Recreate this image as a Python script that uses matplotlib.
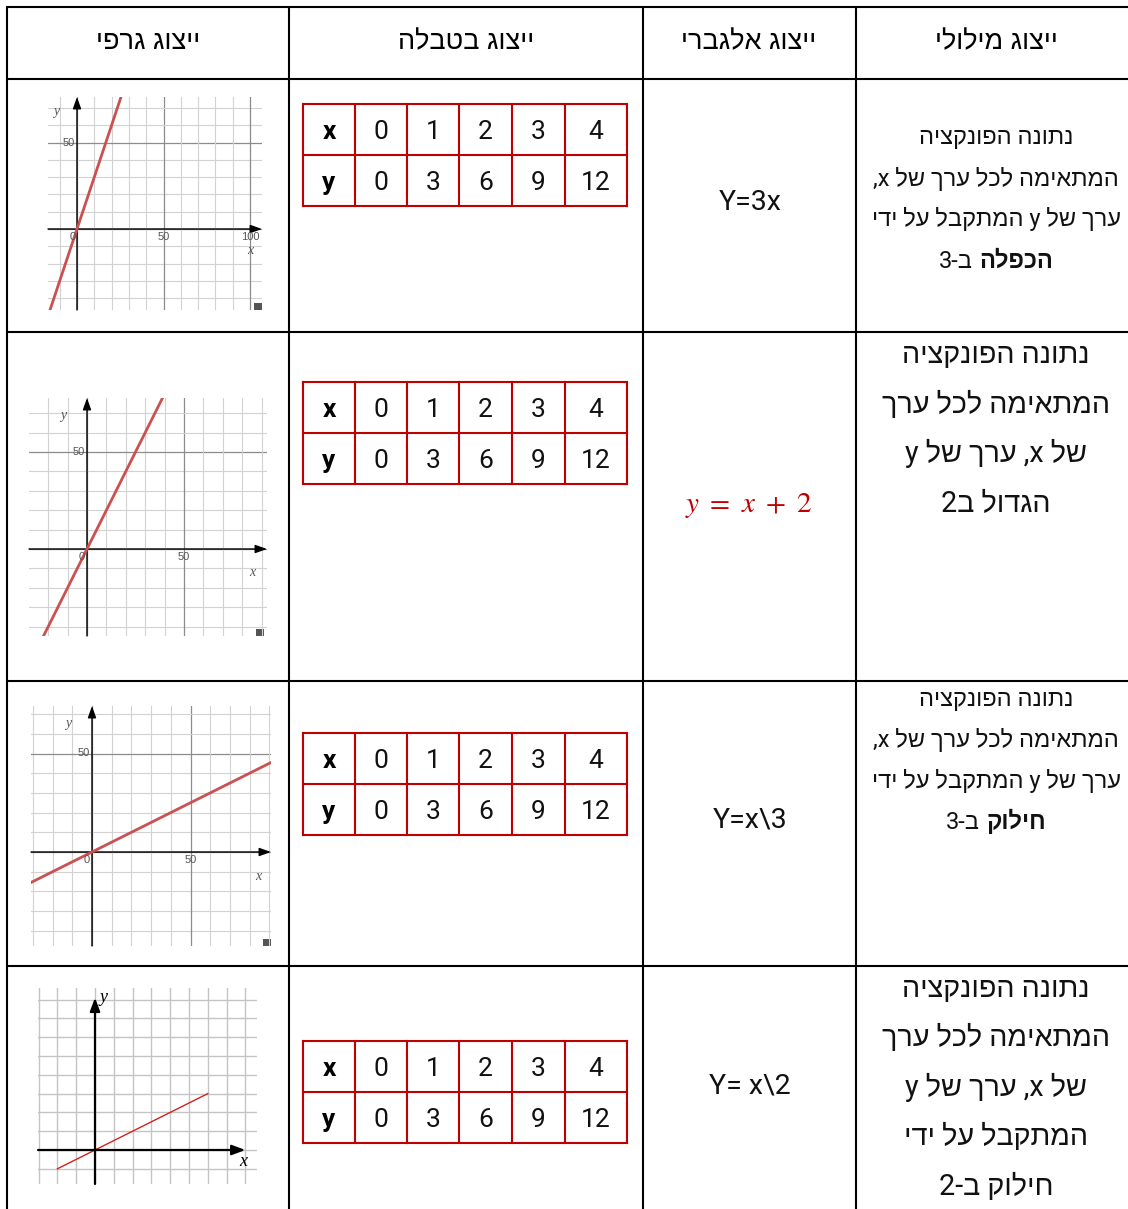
import re
import numpy as np
import matplotlib
matplotlib.use('Agg')
import matplotlib.pyplot as plt
from matplotlib.patches import Rectangle

# ---- data ----
headers = ['ייצוג גרפי', 'ייצוג בטבלה', 'ייצוג אלגברי', 'ייצוג מילולי']
x_vals = [0, 1, 2, 3, 4]
y_vals = [0, 3, 6, 9, 12]
slopes = [3, 2, 0.5, 0.5]
formulas = ['Y=3x', '$y\\ =\\ x\\ +\\ 2$', 'Y=x\\3', 'Y= x\\2']
verbal = [
    [[('נתונה הפונקציה', 0)], [('המתאימה לכל ערך של x,', 0)],
     [('ערך של y המתקבל על ידי', 0)], [('הכפלה', 1), ('ב-3', 0)]],
    [[('נתונה הפונקציה', 0)], [('המתאימה לכל ערך', 0)],
     [('של x, ערך של y', 0)], [('הגדול ב2', 0)]],
    [[('נתונה הפונקציה', 0)], [('המתאימה לכל ערך של x,', 0)],
     [('ערך של y המתקבל על ידי', 0)], [('חילוק', 1), ('ב-3', 0)]],
    [[('נתונה הפונקציה', 0)], [('המתאימה לכל ערך', 0)],
     [('של x, ערך של y', 0)], [('המתקבל על ידי', 0)], [('חילוק ב-2', 0)]],
]

HEB = ['Roboto', 'Liberation Sans', 'DejaVu Sans']
HEAD = ['Liberation Sans Narrow', 'Liberation Sans', 'DejaVu Sans']
RED = '#c00000'


def vis(s):
    # matplotlib has no bidi: put the Hebrew text in visual order
    r = s[::-1]
    return re.sub(r'[A-Za-z0-9]+', lambda m: m.group(0)[::-1], r)


W, H = 1128, 1209
fig = plt.figure(figsize=(W / 100, H / 100), dpi=100)
base = fig.add_axes([0, 0, 1, 1])
base.set_xlim(0, W)
base.set_ylim(H, 0)
base.axis('off')

# outer table
col_x = [7, 289, 643, 856]
row_y = [7, 79, 332, 681, 966]
for x in col_x:
    base.plot([x, x], [row_y[0] - 1, H], color='black', lw=1.5, solid_capstyle='butt')
for y in row_y:
    base.plot([col_x[0] - 1, W], [y, y], color='black', lw=1.5, solid_capstyle='butt')

head_cx = [148, 466, 749, 996]
for cx, h in zip(head_cx, headers):
    base.text(cx, 49, vis(h), fontsize=19.5, family=HEAD, ha='center', va='baseline')

# value tables
tx = [303, 355, 407, 459, 512, 565, 627]
tops = [104, 382, 733, 1041]
rh = 51
for top in tops:
    for x in tx:
        base.plot([x, x], [top, top + 2 * rh], color=RED, lw=1.5, solid_capstyle='projecting')
    for k in range(3):
        base.plot([tx[0], tx[-1]], [top + k * rh, top + k * rh], color=RED, lw=1.5,
                  solid_capstyle='projecting')
    for k, (lab, vals) in enumerate([('x', x_vals), ('y', y_vals)]):
        yb = top + k * rh + rh / 2 + 9.5
        base.text((tx[0] + tx[1]) / 2, yb, lab, fontsize=19, fontweight='bold',
                  family='Roboto', ha='center', va='baseline')
        for j, v in enumerate(vals):
            base.text((tx[j + 1] + tx[j + 2]) / 2, yb, str(v), fontsize=19,
                      family='Roboto', ha='center', va='baseline', color='#111111')

# algebraic column
alg_y = [202, 506, 820, 1086]
for k, (f, y) in enumerate(zip(formulas, alg_y)):
    if k == 1:
        base.text(749, y, f, fontsize=21, color=RED, ha='center', va='center',
                  math_fontfamily='stix')
    else:
        base.text(750, y, f, fontsize=20.5, family='Roboto', ha='center', va='center',
                  color='#111111')

# verbal column
line_y = [[136, 178, 218, 260], [354, 404, 453, 503],
          [698, 739, 780, 821], [988, 1037, 1087, 1136, 1186]]
sizes = [17, 20.7, 17, 20.7]
renderer = fig.canvas.get_renderer()


def rtl_line(cx, y, parts, size):
    texts = []
    for s, b in parts:
        t = base.text(0, y, vis(s), fontsize=size, family=HEB,
                      fontweight='bold' if b else 'normal', ha='left', va='baseline',
                      color='#111111')
        texts.append(t)
    widths = [t.get_window_extent(renderer).width for t in texts]
    gap = size * 0.28 * 100 / 72
    total = sum(widths) + gap * (len(texts) - 1)
    right = cx + total / 2
    for t, w in zip(texts, widths):
        t.set_x(right - w)
        right -= w + gap


for rows, ys, sz in zip(verbal, line_y, sizes):
    for parts, y in zip(rows, ys):
        rtl_line(996, y + sz * 0.45, parts, sz)


# graphs
def screen_graph(box, origin, scale, slope, ticks, sq, ylab, xlab):
    x0, y0, x1, y1 = box
    ox, oy, s = origin[0], origin[1], scale
    ax = fig.add_axes([x0 / W, 1 - y1 / H, (x1 - x0) / W, (y1 - y0) / H])
    xmin, xmax = (x0 - ox) / s, (x1 - ox) / s
    ymin, ymax = (oy - y1) / s, (oy - y0) / s
    ax.set_xlim(xmin, xmax)
    ax.set_ylim(ymin, ymax)
    ax.axis('off')
    for g in range(-100, 201, 10):
        c, lw = ('#8c8c8c', 0.9) if g % 50 == 0 else ('#d2d2d2', 0.8)
        if xmin < g < xmax:
            ax.axvline(g, color=c, lw=lw, zorder=1)
        if ymin < g < ymax:
            ax.axhline(g, color=c, lw=lw, zorder=1)
    ap = dict(arrowstyle='-|>,head_length=0.7,head_width=0.25', color='black', lw=1,
              shrinkA=0, shrinkB=0)
    ax.annotate('', xy=(xmax, 0), xytext=(xmin, 0), arrowprops=ap, annotation_clip=False)
    ax.annotate('', xy=(0, ymax), xytext=(0, ymin), arrowprops=ap, annotation_clip=False)
    xx = np.array([xmin, xmax])
    ax.plot(xx, slope * xx, color='#cc5050', lw=2, zorder=3)
    kw = dict(fontsize=8, color='#555555', family='Liberation Sans')
    ax.text(-1, -1.5, '0', ha='right', va='top', **kw)
    for t in ticks:
        ax.text(t, -1.5, str(t), ha='center', va='top', **kw)
    ax.text(-1, 50, '50', ha='right', va='center', **kw)
    lk = dict(fontsize=10, color='#555555', family='Liberation Serif', style='italic',
              ha='center', va='center')
    ax.text((ylab[0] - ox) / s, (oy - ylab[1]) / s, 'y', **lk)
    ax.text((xlab[0] - ox) / s, (oy - xlab[1]) / s, 'x', **lk)
    base.add_patch(Rectangle((sq[0], sq[1]), 8, 7, color='#555555', lw=0, zorder=5))


screen_graph((48, 97, 262, 310), (77, 229), 1.73, slopes[0], [50, 100], (254, 303),
             (56, 111), (250, 250))
screen_graph((29, 398, 267, 636), (87, 549), 1.94, slopes[1], [50], (256, 629),
             (63, 416), (252, 572))
screen_graph((31, 706, 271, 946), (92, 852), 1.97, slopes[2], [50], (263, 939),
             (68, 724), (258, 876))

# small hand-drawn style graph
x0, y0, x1, y1 = 38, 988, 257, 1184
ox, oy, s = 95, 1150, 18.8
ax4 = fig.add_axes([x0 / W, 1 - y1 / H, (x1 - x0) / W, (y1 - y0) / H])
xmin, xmax = (x0 - ox) / s, (x1 - ox) / s
ymin, ymax = (oy - y1) / s, (oy - y0) / s
ax4.set_xlim(xmin, xmax)
ax4.set_ylim(ymin, ymax)
ax4.axis('off')
for g in range(-3, 9):
    if xmin <= g < xmax:
        ax4.axvline(g, color='#c4c4c4', lw=1, zorder=1)
    if ymin < g < ymax:
        ax4.axhline(g, color='#c4c4c4', lw=1, zorder=1)
ap = dict(arrowstyle='-|>,head_length=0.8,head_width=0.3', color='black', lw=1.6,
          shrinkA=0, shrinkB=0)
ax4.annotate('', xy=(8.0, 0), xytext=(xmin, 0), arrowprops=ap, annotation_clip=False)
ax4.annotate('', xy=(0, 8.1), xytext=(0, ymin), arrowprops=ap, annotation_clip=False)
seg = np.array([-2, 6])
ax4.plot(seg, slopes[3] * seg, color='#d42020', lw=1)
ax4.text(0.25, 8.1, 'y', fontsize=13, family='Liberation Serif', style='italic', va='center')
ax4.text(7.9, -0.6, 'x', fontsize=13, family='Liberation Serif', style='italic', va='center',
         ha='center')

fig.savefig('out.png', dpi=100)
